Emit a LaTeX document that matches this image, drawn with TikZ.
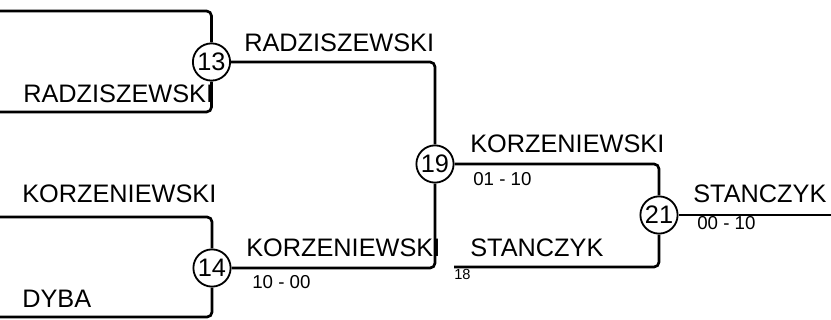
\documentclass[tikz,border=0pt]{standalone}
\usepackage{xcolor}
\usepackage{fontspec}
\setmainfont{Liberation Sans}
\usepackage{tikz}

\tikzset{
    matchnode/.style={circle, draw, line width=1.3pt, minimum size=0.93cm, inner sep=0pt, font=\fontsize{18}{20}\selectfont},
    bline/.style={line width=1.9pt, rounded corners=3.5pt},
    player/.style={anchor=base west, inner sep=0pt, font=\fontsize{18}{20}\selectfont},
    score/.style={anchor=base west, inner sep=0pt, font=\fontsize{13.3}{15}\selectfont},
    seed/.style={anchor=base west, inner sep=0pt, font=\fontsize{10.4}{11}\selectfont}
}

\begin{document}
\begin{tikzpicture}
        \useasboundingbox (0,0) rectangle (20.775,8);
		\node at (5.2875,6.45) [matchnode] (m13) {13};
		\node at (5.3,1.3) [matchnode] (m14) {14};
		\node at (10.875,3.9) [matchnode] (m19) {19};
		\node at (16.475,2.625) [matchnode] (m21) {21};
        \coordinate (in1) at (0,7.725);
        \coordinate (in2) at (0,5.2);
        \coordinate (in3) at (0,2.575);
        \coordinate (in4) at (0,0.075);
        \coordinate (in5) at (11.35,1.325);
        \coordinate (out) at (20.775,2.625);
        \node at (0.575,5.425) [player] (p2) {RADZISZEWSKI};
        \node at (0.55,2.925) [player] (p3) {KORZENIEWSKI};
        \node at (0.55,0.3) [player] (p4) {DYBA};
        \node at (6.1,6.7) [player] (w13) {RADZISZEWSKI};
        \node at (6.15,1.575) [player] (w14) {KORZENIEWSKI};
        \node at (11.75,4.175) [player] (w19) {KORZENIEWSKI};
        \node at (11.75,1.575) [player] (p5) {STANCZYK};
        \node at (17.325,2.925) [player] (w21) {STANCZYK};
        \node at (6.3,0.775) [score] (s14) {10 - 00};
        \node at (11.825,3.35) [score] (s19) {01 - 10};
        \node at (17.425,2.25) [score] (s21) {00 - 10};
        \node at (11.35,1.0) [seed] (sd5) {18};
        \draw[bline] (in1) -| (m13);
        \draw[bline] (in2) -| (m13);
        \draw[bline] (in3) -| (m14);
        \draw[bline] (in4) -| (m14);
        \draw[bline] (m13) -| (m19);
        \draw[bline] (m14) -| (m19);
        \draw[bline] (m19) -| (m21);
        \draw[bline] (in5) -| (m21);
        \draw[bline] (m21) -- (out);
\end{tikzpicture}
\end{document}
